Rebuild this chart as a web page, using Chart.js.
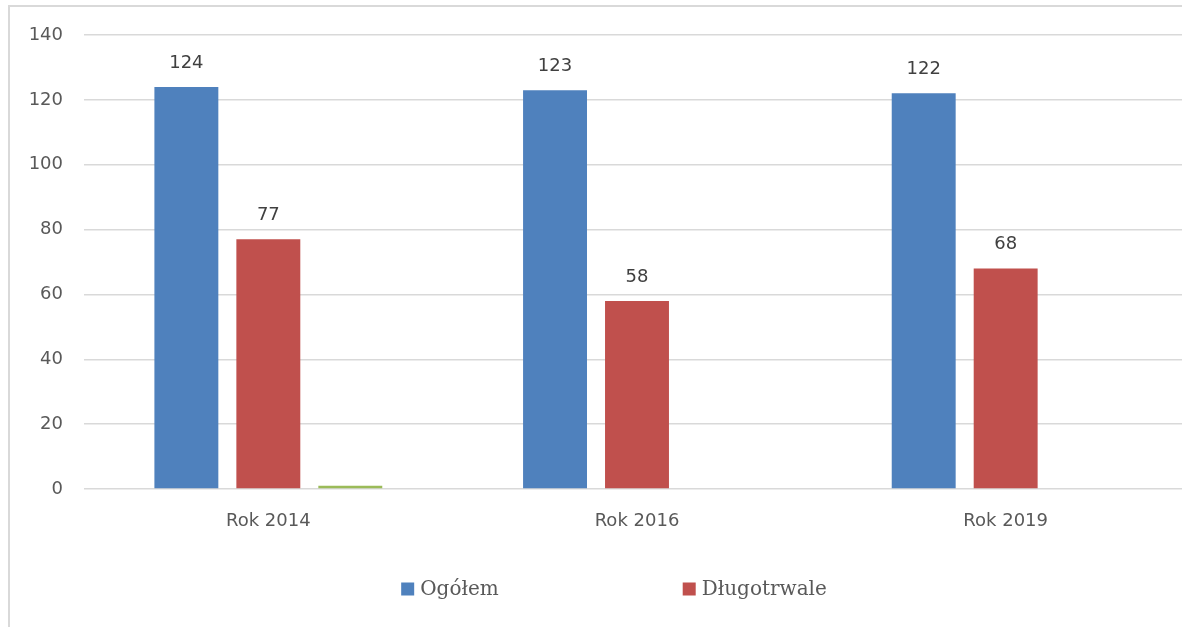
<!DOCTYPE html>
<html>
<head>
<meta charset="utf-8">
<script src="https://cdn.jsdelivr.net/npm/chart.js@4/dist/chart.umd.min.js"></script>
<style>
  html, body { margin: 0; padding: 0; background: #fff; overflow: hidden; }
  #frame { position: absolute; left: 8px; top: 5px; width: 1300px; height: 700px;
           border-left: 2px solid #d9d9d9; border-top: 2px solid #d9d9d9; }
  #wrap { position: absolute; left: 0; top: 0; width: 1190px; height: 627px; }
</style>
</head>
<body>
<div id="frame"></div>
<div id="wrap"><canvas id="chart"></canvas></div>
<script>
// chart data
const categories = ['Rok 2014', 'Rok 2016', 'Rok 2019'];
const seriesNames = ['Ogółem', 'Długotrwale', ''];
const totalValues = [124, 123, 122];
const longTermValues = [77, 58, 68];
const otherValues = [1, null, null];
const yTicks = [0, 20, 40, 60, 80, 100, 120, 140];

const colors = ['#4f81bd', '#c0504d', '#9bbb59'];
const textColor = '#595959';

// value labels above the bars of the named series
const valueLabels = {
    id: 'valueLabels',
    afterDatasetsDraw(chart) {
        const ctx = chart.ctx;
        ctx.save();
        ctx.font = '18px "DejaVu Sans"';
        ctx.fillStyle = '#404040';
        ctx.textAlign = 'center';
        ctx.textBaseline = 'middle';
        chart.data.datasets.forEach((ds, i) => {
            if (!ds.label) return;
            chart.getDatasetMeta(i).data.forEach((bar, j) => {
                if (ds.data[j] == null) return;
                ctx.fillText(ds.data[j], bar.x, bar.y - 24);
            });
        });
        ctx.restore();
    }
};

// legend in one row with a wide gap between items
const wideLegend = {
    id: 'wideLegend',
    afterDraw(chart) {
        const ctx = chart.ctx;
        const centerX = 614, y = 590, box = 13, gap = 184;
        ctx.save();
        ctx.font = '20px "DejaVu Serif"';
        ctx.textBaseline = 'middle';
        const items = chart.data.datasets
            .map((ds, i) => ({ text: ds.label, color: colors[i] }))
            .filter(it => it.text);
        const widths = items.map(it => box + 6 + ctx.measureText(it.text).width);
        const total = widths.reduce((a, b) => a + b, 0) + gap * (items.length - 1);
        let x = centerX - total / 2;
        items.forEach((it, i) => {
            ctx.fillStyle = it.color;
            ctx.fillRect(x, y - box / 2 - 1, box, box);
            ctx.fillStyle = textColor;
            ctx.fillText(it.text, x + box + 6, y);
            x += widths[i] + gap;
        });
        ctx.restore();
    }
};

const ctx = document.getElementById('chart').getContext('2d');
const chart = new Chart(ctx, {
    type: 'bar',
    data: {
        labels: categories,
        datasets: [
            { label: seriesNames[0], data: totalValues, backgroundColor: colors[0] },
            { label: seriesNames[1], data: longTermValues, backgroundColor: colors[1] },
            { label: seriesNames[2], data: otherValues, backgroundColor: colors[2] }
        ]
    },
    options: {
        responsive: true,
        maintainAspectRatio: false,
        animation: false,
        categoryPercentage: 0.667,
        barPercentage: 0.78,
        layout: { padding: { top: 35, left: 0, right: 0, bottom: 0 } },
        plugins: {
            legend: { display: false },
            tooltip: { enabled: false }
        },
        scales: {
            x: {
                grid: { display: false },
                border: { display: false },
                ticks: { color: textColor, font: { family: 'DejaVu Sans', size: 18 }, padding: 14 },
                afterFit(scale) { scale.height = 138; }
            },
            y: {
                min: 0,
                max: 140,
                afterBuildTicks(scale) { scale.ticks = yTicks.map(v => ({ value: v })); },
                grid: { color: '#d9d9d9', lineWidth: 1.5, drawTicks: false },
                border: { display: false },
                ticks: { color: textColor, font: { family: 'DejaVu Sans', size: 18 }, padding: 21 },
                afterFit(scale) { scale.width = 84; }
            }
        }
    },
    plugins: [valueLabels, wideLegend]
});
</script>
</body>
</html>
